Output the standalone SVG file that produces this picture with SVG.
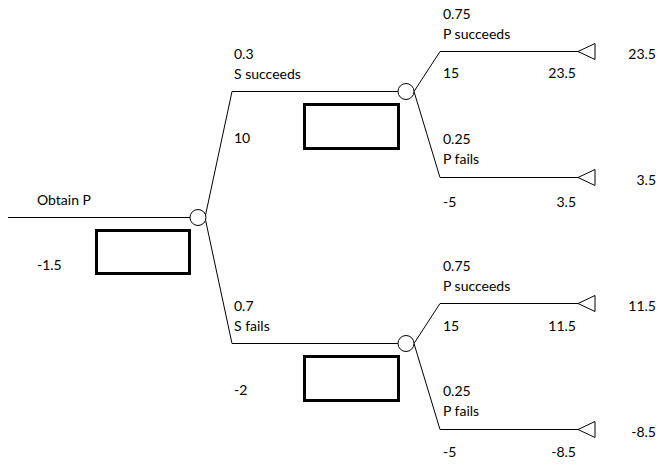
<svg xmlns="http://www.w3.org/2000/svg" width="659" height="473" viewBox="0 0 659 473">
<style>
text{font-family:Lato,"Liberation Sans",sans-serif;font-size:14px;fill:#000}
.r{text-anchor:end}
.ln{stroke:#000;stroke-width:1;fill:none}
.box{fill:none;stroke:#000;stroke-width:3}
.ch{fill:#fff;stroke:#000;stroke-width:1}
.tm{fill:#fff;stroke:#000;stroke-width:1}
</style>
<rect width="659" height="473" fill="#fff"/>
<g id="connectors">
<path class="ln" d="M8 217.5H190"/>
<path class="ln" d="M205 217.5L232 91.5H398"/>
<path class="ln" d="M205 217.5L232 343.5H398"/>
<path class="ln" d="M414 91.5L440 51.5H578"/>
<path class="ln" d="M414 91.5L440 177.5H578"/>
<path class="ln" d="M414 343.5L440 303.5H578"/>
<path class="ln" d="M414 343.5L440 429.5H578"/>
</g>
<g id="root">
<text x="37" y="205">Obtain P</text>
<text x="37" y="270">-1.5</text>
<rect class="box" x="96.5" y="230.5" width="93" height="43"/>
</g>
<g id="chance1">
<circle class="ch" cx="198" cy="217.5" r="8"/>
</g>
<g id="s-succeeds">
<text x="234" y="59">0.3</text>
<text x="234" y="79">S succeeds</text>
<text x="234" y="143">10</text>
<rect class="box" x="304.5" y="104.5" width="94" height="44"/>
<circle class="ch" cx="406" cy="91.5" r="8"/>
</g>
<g id="s-fails">
<text x="234" y="311">0.7</text>
<text x="234" y="331">S fails</text>
<text x="234" y="395">-2</text>
<rect class="box" x="304.5" y="356.5" width="94" height="44"/>
<circle class="ch" cx="406" cy="343.5" r="8"/>
</g>
<g id="end1">
<text x="443" y="19">0.75</text>
<text x="443" y="39">P succeeds</text>
<text x="443" y="78">15</text>
<text class="r" x="576" y="78">23.5</text>
<polygon class="tm" points="578,51.5 595,43.5 595,59.5"/>
<text class="r" x="656" y="59">23.5</text>
</g>
<g id="end2">
<text x="443" y="144">0.25</text>
<text x="443" y="164">P fails</text>
<text x="443" y="207">-5</text>
<text class="r" x="576" y="207">3.5</text>
<polygon class="tm" points="578,177.5 595,169.5 595,185.5"/>
<text class="r" x="656" y="185">3.5</text>
</g>
<g id="end3">
<text x="443" y="271">0.75</text>
<text x="443" y="291">P succeeds</text>
<text x="443" y="331">15</text>
<text class="r" x="576" y="331">11.5</text>
<polygon class="tm" points="578,303.5 595,295.5 595,311.5"/>
<text class="r" x="656" y="311">11.5</text>
</g>
<g id="end4">
<text x="443" y="396">0.25</text>
<text x="443" y="416">P fails</text>
<text x="443" y="457">-5</text>
<text class="r" x="576" y="457">-8.5</text>
<polygon class="tm" points="578,429.5 595,421.5 595,437.5"/>
<text class="r" x="656" y="437">-8.5</text>
</g>
</svg>
